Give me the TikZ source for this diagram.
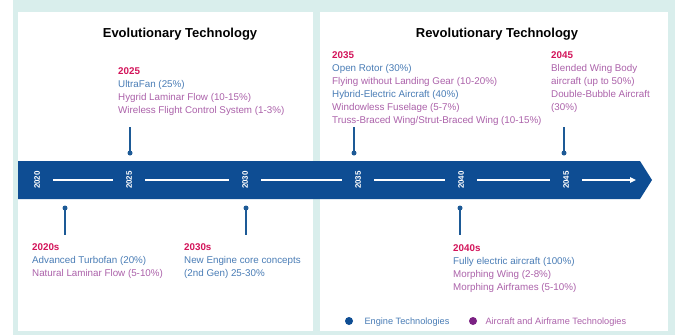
\documentclass[tikz,border=0pt]{standalone}
\usepackage{fontspec}
\setmainfont{Liberation Sans}
\usetikzlibrary{arrows.meta}

\definecolor{bandblue}{HTML}{0E4D93}
\definecolor{stemblue}{HTML}{1D5A96}
\definecolor{engblue}{HTML}{4A7DB6}
\definecolor{airpurple}{HTML}{AC62AA}
\definecolor{yearred}{HTML}{D3145A}
\definecolor{framemint}{HTML}{D9EEEC}
\definecolor{legpurple}{HTML}{7B2183}

\newcommand{\eng}[1]{\textcolor{engblue}{#1}}
\newcommand{\air}[1]{\textcolor{airpurple}{#1}}
\newcommand{\yr}[1]{\textcolor{yearred}{\bfseries #1}}

\begin{document}
\begin{tikzpicture}[x=1pt, y=-1pt,
  every node/.style={font=\fontsize{9.8}{13}\selectfont},
  block/.style={anchor=base west, align=left, inner sep=0pt},
  tick/.style={rotate=90, text=white, font=\fontsize{8}{9}\selectfont\bfseries},
  stem/.style={stemblue, line width=1.2pt},
  pin/.style={circle, fill=stemblue, inner sep=0pt, minimum size=5pt},
  timeline/.style={white, line width=1.3pt, shorten <=10pt, shorten >=10pt},
  title/.style={anchor=base, font=\fontsize{13}{15}\selectfont\bfseries}]

\useasboundingbox (0,0) rectangle (692,335);
\fill[framemint] (13,0) rectangle (675,335);
\fill[white] (18,12) rectangle (313,331);
\fill[white] (320,12) rectangle (668,331);
\fill[bandblue] (18,161) -- (640,161) -- (652,180) -- (640,199) -- (18,199) -- cycle;

\node (evo) [title] at (180,37) {Evolutionary Technology};
\node (rev) [title] at (497,37) {Revolutionary Technology};

\node (y2020) [tick] at (37,180) {2020};
\node (y2025) [tick] at (129,180) {2025};
\node (y2030) [tick] at (245,180) {2030};
\node (y2035) [tick] at (358,180) {2035};
\node (y2040) [tick] at (461,180) {2040};
\node (y2045) [tick] at (566,180) {2045};
\coordinate (tip) at (636,180);

\draw[timeline] (y2020) -- (y2025);
\draw[timeline] (y2025) -- (y2030);
\draw[timeline] (y2030) -- (y2035);
\draw[timeline] (y2035) -- (y2040);
\draw[timeline] (y2040) -- (y2045);
\draw[timeline, shorten >=0pt, -{Triangle[length=6pt, width=5.5pt]}] (y2045) -- (tip);

\node (p2025) [pin] at (130,153) {};
\node (p2035) [pin] at (354,153) {};
\node (p2045) [pin] at (564,153) {};
\node (p2020s) [pin] at (65,208) {};
\node (p2030s) [pin] at (246,208) {};
\node (p2040s) [pin] at (460,208) {};
\coordinate (s2025) at (130,127);
\coordinate (s2035) at (354,127);
\coordinate (s2045) at (564,127);
\coordinate (s2020s) at (65,235);
\coordinate (s2030s) at (246,235);
\coordinate (s2040s) at (460,235);

\draw[stem] (s2025) -- (p2025.center);
\draw[stem] (s2035) -- (p2035.center);
\draw[stem] (s2045) -- (p2045.center);
\draw[stem] (p2020s.center) -- (s2020s);
\draw[stem] (p2030s.center) -- (s2030s);
\draw[stem] (p2040s.center) -- (s2040s);

% blocks sit on the baseline of their last line
\node (e2025) [block] at (118,113) {\yr{2025}\\ \eng{UltraFan (25\%)}\\
  \air{Hygrid Laminar Flow (10-15\%)}\\ \air{Wireless Flight Control System (1-3\%)}};
\node (e2035) [block] at (332,123) {\yr{2035}\\ \eng{Open Rotor (30\%)}\\
  \air{Flying without Landing Gear (10-20\%)}\\ \eng{Hybrid-Electric Aircraft (40\%)}\\
  \air{Windowless Fuselage (5-7\%)}\\ \air{Truss-Braced Wing/Strut-Braced Wing (10-15\%)}};
\node (e2045) [block] at (551,110) {\yr{2045}\\ \air{Blended Wing Body}\\
  \air{aircraft (up to 50\%)}\\ \air{Double-Bubble Aircraft}\\ \air{(30\%)}};
\node (e2020s) [block] at (32,276) {\yr{2020s}\\ \eng{Advanced Turbofan (20\%)}\\
  \air{Natural Laminar Flow (5-10\%)}};
\node (e2030s) [block] at (184,276) {\yr{2030s}\\ \eng{New Engine core concepts}\\
  \eng{(2nd Gen) 25-30\%}};
\node (e2040s) [block] at (453,290) {\yr{2040s}\\ \eng{Fully electric aircraft (100\%)}\\
  \air{Morphing Wing (2-8\%)}\\ \air{Morphing Airframes (5-10\%)}};

\node (leng) [circle, fill=bandblue, inner sep=0pt, minimum size=8pt] at (349,321) {};
\node (teng) [anchor=base west, text=engblue, font=\fontsize{9.2}{11}\selectfont] at (361,324) {Engine Technologies};
\node (lair) [circle, fill=legpurple, inner sep=0pt, minimum size=8pt] at (473,321) {};
\node (tair) [anchor=base west, text=airpurple, font=\fontsize{9.2}{11}\selectfont] at (482,324) {Aircraft and Airframe Technologies};

\end{tikzpicture}
\end{document}
